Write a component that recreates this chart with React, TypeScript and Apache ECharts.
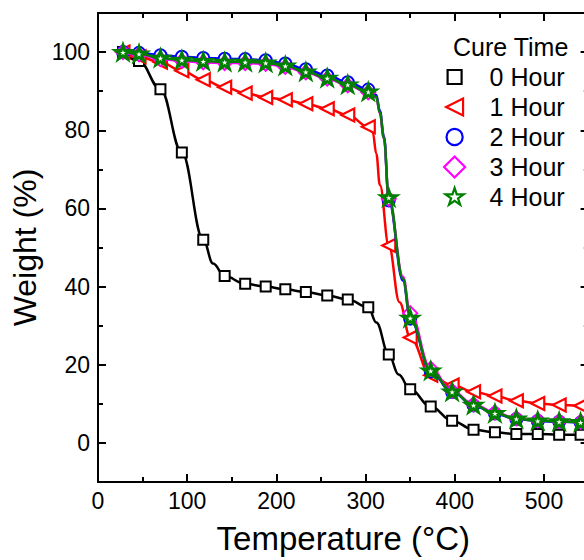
import React, { useEffect, useRef } from "react";
import * as echarts from "echarts";

// Marker temperatures (°C), shared by all curves
const TEMP = [28, 46, 70, 94, 118, 142, 165, 188, 210, 233, 257, 280, 303, 326, 350, 373, 397, 421, 445, 469, 493, 517, 541];

// Weight (%) at the markers
const W_0H = [100, 97.7, 90.5, 74.3, 52.0, 42.7, 40.7, 40.0, 39.3, 38.6, 37.7, 36.7, 34.7, 22.6, 13.7, 9.3, 5.7, 3.4, 2.7, 2.3, 2.3, 2.1, 2.1];
const W_1H = [100, 98.8, 97.4, 95.2, 92.9, 91.0, 89.5, 88.4, 87.8, 86.8, 85.5, 83.9, 80.9, 50.5, 27.0, 17.3, 14.8, 13.1, 12.0, 10.8, 10.1, 9.7, 9.5];
const W_2H = [100, 99.8, 99.2, 98.8, 98.5, 98.3, 98.2, 97.9, 97.1, 95.6, 94.0, 92.3, 90.4, 62.0, 31.8, 18.3, 13.0, 9.6, 7.5, 6.1, 5.6, 5.4, 5.2];
const W_3H = [100, 99.4, 98.2, 97.7, 97.4, 97.2, 97.2, 97.0, 96.2, 94.8, 93.2, 91.5, 89.7, 62.5, 33.2, 19.0, 13.3, 9.9, 7.8, 6.3, 5.8, 5.6, 5.4];
const W_4H = [100, 99.6, 98.5, 98.0, 97.7, 97.5, 97.5, 97.3, 96.5, 95.0, 93.4, 91.7, 89.9, 62.8, 32.0, 18.5, 13.1, 9.7, 7.6, 6.2, 5.7, 5.5, 5.3];

// Extra points (no marker)
const X0_T = [129, 312, 337];
const X0_W = [45.9, 30.8, 17.5];
const X1_T = [308, 312, 316, 338];
const X1_W = [79.5, 74, 66, 36];
const X2_T = [312, 316, 320.5, 342];
const X2_W = [89.0, 85.0, 78.5, 41.5];
const X3_T = [312, 316, 320.5, 342];
const X3_W = [88.3, 84.3, 78.0, 42.5];
const X4_T = [312, 316, 320.5, 342];
const X4_W = [88.5, 84.5, 78.0, 42.0];

const NAMES = ["0 Hour", "1 Hour", "2 Hour", "3 Hour", "4 Hour"];

// Axis ticks / labels
const X_MAJOR = [0, 100, 200, 300, 400, 500];
const X_MINOR = [50, 150, 250, 350, 450, 550];
const Y_MAJOR = [0, 20, 40, 60, 80, 100];
const Y_MINOR = [10, 30, 50, 70, 90];

const FONT = "'Liberation Sans', Arial, Helvetica, sans-serif";

const SQUARE = "path://M0,0H10V10H0Z";
const TRIANGLE = "path://M0,5L10,0L10,10Z";
const CIRCLE = "path://M5,0A5,5 0 1,1 5,10A5,5 0 1,1 5,0Z";
const DIAMOND = "path://M5,0L10,5L5,10L0,5Z";
const STAR = "path://M50,0L61.8,35.4L100,35.4L69.1,57.3L80.9,92.7L50,70.8L19.1,92.7L30.9,57.3L0,35.4L38.2,35.4Z";

// legend icons with padding so they differ in size inside a common box
const L_SQUARE = "path://M-2.5,-2.5M12.5,12.5M0,0H10V10H0Z";
const L_TRIANGLE = "path://M-1.2,-1.2M11.2,11.2M0,5L10,0L10,10Z";
const L_CIRCLE = "path://M-1.5,-1.5M11.5,11.5M5,0A5,5 0 1,1 5,10A5,5 0 1,1 5,0Z";
const L_DIAMOND = DIAMOND;
const L_STAR = "path://M-8,-8M108,108M50,0L61.8,35.4L100,35.4L69.1,57.3L80.9,92.7L50,70.8L19.1,92.7L30.9,57.3L0,35.4L38.2,35.4Z";

function build(w: number[], et: number[], ew: number[]) {
  const pts: any[] = TEMP.map((t, i) => ({ value: [t, w[i]] }));
  et.forEach((t, i) => pts.push({ value: [t, ew[i]], symbol: "none" }));
  pts.sort((a, b) => a.value[0] - b.value[0]);
  return pts;
}

export default function App() {
  const ref = useRef<HTMLDivElement>(null);
  useEffect(() => {
    if (!ref.current) return;
    const chart = echarts.init(ref.current, undefined, { renderer: "svg" });
    const black = "#000";
    const tickStyle = { color: black, width: 2 };
    const xBase = { type: "value", min: 0, max: 550, splitLine: { show: false } };
    const yBase = { type: "value", min: -10, max: 110, splitLine: { show: false } };
    const specs = [
      { name: NAMES[0], color: "#000000", w: W_0H, et: X0_T, ew: X0_W, symbol: SQUARE, size: 10, bw: 2, icon: L_SQUARE },
      { name: NAMES[1], color: "#ff0000", w: W_1H, et: X1_T, ew: X1_W, symbol: TRIANGLE, size: 13, bw: 2.2, icon: L_TRIANGLE },
      { name: NAMES[2], color: "#0000ff", w: W_2H, et: X2_T, ew: X2_W, symbol: CIRCLE, size: 12, bw: 2, icon: L_CIRCLE },
      { name: NAMES[3], color: "#ff00ff", w: W_3H, et: X3_T, ew: X3_W, symbol: DIAMOND, size: 14, bw: 2, icon: L_DIAMOND },
      { name: NAMES[4], color: "#008000", w: W_4H, et: X4_T, ew: X4_W, symbol: STAR, size: 15, bw: 3, icon: L_STAR },
    ];
    chart.setOption({
      animation: false,
      backgroundColor: "#fff",
      textStyle: { fontFamily: FONT },
      title: {
        text: "Cure Time",
        left: 453,
        top: 34,
        padding: 0,
        textStyle: { fontSize: 25, fontWeight: "normal", color: black, fontFamily: FONT },
      },
      legend: {
        orient: "vertical",
        left: 443,
        top: 62,
        padding: 0,
        itemGap: 0,
        itemWidth: 60,
        itemHeight: 21,
        symbolKeepAspect: true,
        textStyle: { fontSize: 25, color: black, fontFamily: FONT, lineHeight: 30 },
        data: specs.map((s) => ({
          name: s.name,
          icon: s.icon,
          itemStyle: { color: "#fff", borderColor: s.color, borderWidth: 2.2 },
        })),
      },
      grid: { left: 98, right: 11.4, top: 13, bottom: 72 },
      xAxis: [
        {
          ...xBase,
          position: "bottom",
          axisLine: { show: true, onZero: false, lineStyle: tickStyle },
          axisTick: { show: true, inside: true, length: 8, customValues: X_MAJOR, lineStyle: tickStyle },
          axisLabel: { show: true, customValues: X_MAJOR, color: black, fontSize: 23, fontFamily: FONT, margin: 7 },
          name: "Temperature (°C)",
          nameLocation: "middle",
          nameGap: 40,
          nameTextStyle: { fontSize: 33, color: black, fontFamily: FONT },
        },
        {
          ...xBase,
          position: "bottom",
          axisLine: { show: false, onZero: false },
          axisTick: { show: true, inside: true, length: 5, customValues: X_MINOR, lineStyle: tickStyle },
          axisLabel: { show: false },
        },
        {
          ...xBase,
          position: "top",
          axisLine: { show: true, onZero: false, lineStyle: tickStyle },
          axisTick: { show: true, inside: true, length: 8, customValues: X_MAJOR, lineStyle: tickStyle },
          axisLabel: { show: false },
        },
        {
          ...xBase,
          position: "top",
          axisLine: { show: false, onZero: false },
          axisTick: { show: true, inside: true, length: 5, customValues: X_MINOR, lineStyle: tickStyle },
          axisLabel: { show: false },
        },
      ],
      yAxis: [
        {
          ...yBase,
          position: "left",
          axisLine: { show: true, onZero: false, lineStyle: tickStyle },
          axisTick: { show: true, inside: true, length: 8, customValues: Y_MAJOR, lineStyle: tickStyle },
          axisLabel: { show: true, customValues: Y_MAJOR, color: black, fontSize: 23, fontFamily: FONT, margin: 8 },
          name: "Weight (%)",
          nameLocation: "middle",
          nameGap: 52,
          nameTextStyle: { fontSize: 32, color: black, fontFamily: FONT },
        },
        {
          ...yBase,
          position: "left",
          axisLine: { show: false, onZero: false },
          axisTick: { show: true, inside: true, length: 5, customValues: Y_MINOR, lineStyle: tickStyle },
          axisLabel: { show: false },
        },
        {
          ...yBase,
          position: "right",
          axisLine: { show: true, onZero: false, lineStyle: tickStyle },
          axisTick: { show: true, inside: true, length: 8, customValues: Y_MAJOR, lineStyle: tickStyle },
          axisLabel: { show: false },
        },
        {
          ...yBase,
          position: "right",
          axisLine: { show: false, onZero: false },
          axisTick: { show: true, inside: true, length: 5, customValues: Y_MINOR, lineStyle: { color: "#999", width: 2 } },
          axisLabel: { show: false },
        },
      ],
      series: specs.map((s, i) => ({
        type: "line",
        name: s.name,
        xAxisIndex: 0,
        yAxisIndex: 0,
        data: build(s.w, s.et, s.ew),
        smooth: 0.4,
        smoothMonotone: "x",
        symbol: s.symbol,
        symbolSize: s.size,
        symbolKeepAspect: true,
        showAllSymbol: true,
        lineStyle: { color: s.color, width: 2.5 },
        itemStyle: { color: "#fff", borderColor: s.color, borderWidth: s.bw },
        z: 2 + i,
      })),
    });
    return () => chart.dispose();
  }, []);
  return (
    <div style={{ position: "fixed", left: 0, top: 0, width: 584, height: 560, overflow: "hidden", background: "#fff" }}>
      <div ref={ref} style={{ width: 600, height: 560 }} />
    </div>
  );
}
